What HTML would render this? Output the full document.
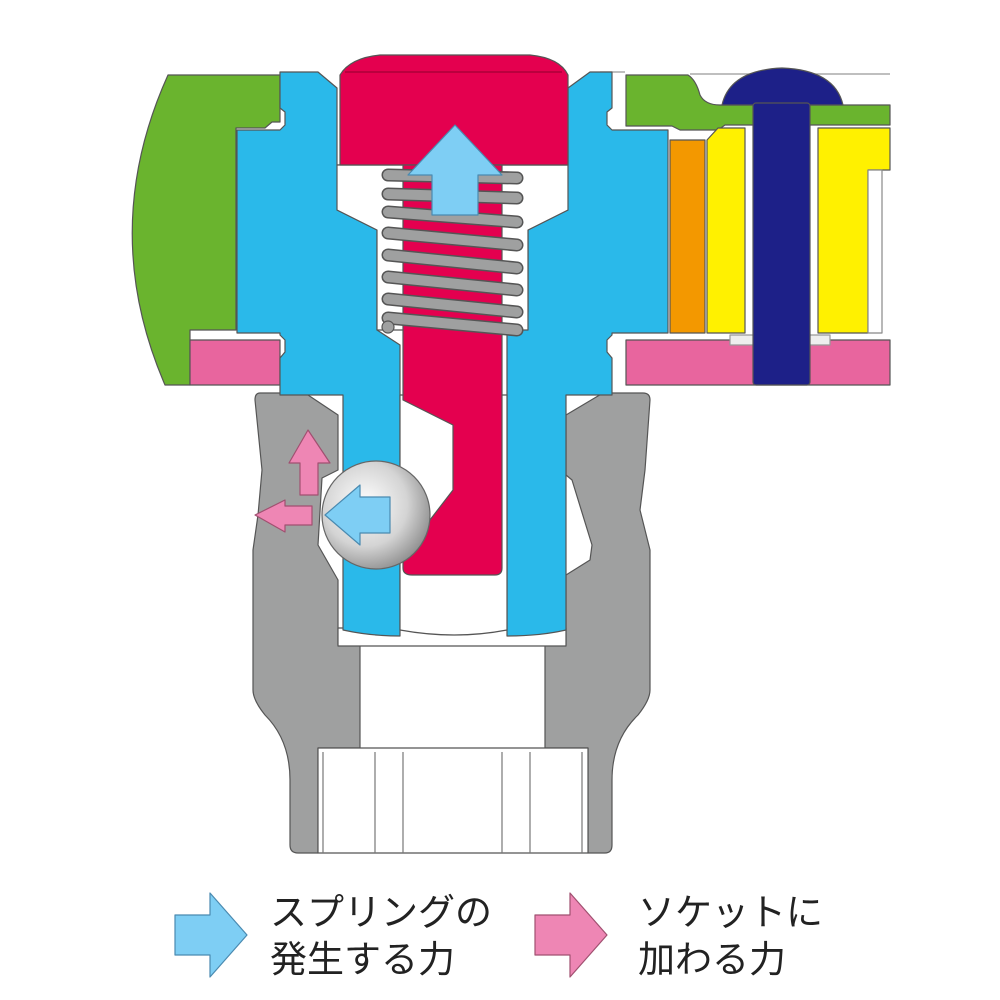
<!DOCTYPE html>
<html><head><meta charset="utf-8"><style>
html,body{margin:0;padding:0;background:#fff;width:1000px;height:1000px;overflow:hidden}
svg{display:block}
text{font-family:"Liberation Sans","Noto Sans CJK JP",sans-serif;fill:#222}
</style></head><body>
<svg width="1000" height="1000" viewBox="0 0 1000 1000" xmlns="http://www.w3.org/2000/svg">
<defs>
<radialGradient id="ball" cx="0.4" cy="0.4" r="0.65">
<stop offset="0" stop-color="#ffffff"/><stop offset="0.6" stop-color="#d4d4d4"/><stop offset="1" stop-color="#8e8e8e"/>
</radialGradient>
</defs>
<g stroke="#555" stroke-width="1.2" stroke-linejoin="round">
<path d="M690 74 H890 M600 72 H625" stroke="#999" fill="none"/>
<path d="M168 75 H280 V122 H272 L265 128 H236 V330 H190 V385 H165 Q98 230 168 75 Z" fill="#6ab42e"/>
<rect x="190" y="340" width="90" height="45" fill="#e8659e"/>
<path d="M626 75 H688 Q696 80 700 95 Q705 105 720 105 H890 V125 H725 L718 130 H680 L672 126 H626 Z" fill="#6ab42e"/>
<rect x="670" y="140" width="35" height="193" fill="#f39800"/>
<path d="M707 140 L718 128 H745 V333 H707 Z" fill="#fff100"/>
<path d="M818 128 H890 V170 H868 V333 H818 Z" fill="#fff100"/>
<path d="M868 170 H882 V333 H868 Z" fill="#fff" stroke="#888"/>
<path d="M626 340 H890 V385 H626 Z" fill="#e8659e"/>
<rect x="730" y="335" width="100" height="10" fill="#eee" stroke="#999"/>
<path d="M722 105 Q730 70 782 68 Q835 70 843 105 Z" fill="#1d2088"/>
<rect x="753" y="103" width="57" height="282" rx="3" fill="#1d2088"/>
<path d="M260 393 H305 L338 415 V470 L322 478 L318 545 L338 580 V645 H360 V748 H318 V853 H298 Q290 853 290 845 V780 Q290 740 265 715 Q253 700 253 690 V550 L258 515 L262 470 L255 400 Q255 393 260 393 Z" fill="#9fa0a0"/>
<path d="M643 393 H603 L566 415 V475 L572 480 L592 545 L590 560 L566 575 V645 H545 V748 H588 V853 H605 Q612 853 612 845 V780 Q612 740 638 715 Q650 700 650 690 V550 L640 510 L645 470 L650 400 Q650 393 643 393 Z" fill="#9fa0a0"/>
<rect x="318" y="748" width="270" height="105" fill="#fff"/>
<path d="M323 752 V853 M375 752 V853 M403 752 V853 M502 752 V853 M530 752 V853 M582 752 V853" fill="none" stroke="#777"/>
<rect x="338" y="628" width="228" height="18" fill="#fff"/>
<path d="M280 72 H318 L337 88 V165 H568 V88 L590 72 H612 V108 L607 112 V125 L612 130 H668 V333 H612 V335 L607 340 V352 L612 358 V395 H566 V630 Q540 636 507 636 V330 L528 312 V230 L568 210 H337 L377 230 V330 L400 345 V636 Q370 636 343 630 V395 H280 V358 L285 352 V340 L280 335 V333 H237 V130 H280 L285 125 V112 L280 108 Z" fill="#2ab9ea"/>
<path d="M337 165 H568 V210 L528 230 V330 H377 V230 L337 210 Z" fill="#fff"/>
<path d="M400 395 H507 V630 Q455 640 400 630 Z" fill="#fff"/>
<path d="M340 165 V75 Q350 58 380 55 H530 Q560 58 568 75 V165 Z" fill="#e4004f"/>
<path d="M345 72 H562" stroke="#a00035" fill="none"/>
<path d="M403 165 H502 V568 Q502 575 495 575 H412 Q403 575 403 568 V555 L453 490 V425 L403 400 Z" fill="#e4004f"/>
<g stroke="#555" stroke-width="13" stroke-linecap="round" fill="none">
<path d="M388 175 L517 178 M388 194 L517 198 M388 212 L517 222 M388 233 L517 245 M388 255 L517 268 M388 277 L517 290 M388 299 L517 312 M388 318 L517 330"/>
</g>
<g stroke="#9fa0a0" stroke-width="10" stroke-linecap="round" fill="none">
<path d="M388 175 L517 178 M388 194 L517 198 M388 212 L517 222 M388 233 L517 245 M388 255 L517 268 M388 277 L517 290 M388 299 L517 312 M388 318 L517 330"/>
</g>
<circle cx="388" cy="327" r="6" fill="#9fa0a0"/>
<path d="M455 125 L502 175 H478 V215 H432 V175 H408 Z" fill="#7ecef4" stroke="#4a8ab0"/>
<circle cx="376" cy="515" r="54" fill="url(#ball)" stroke="#666"/>
<path d="M325 515 L360 485 V497 H390 V533 H360 V545 Z" fill="#7ecef4" stroke="#4a8ab0"/>
<path d="M308 430 L330 463 H318 V495 H300 V463 H289 Z" fill="#ee86b4" stroke="#a05070"/>
<path d="M255 515 L285 500 V506 H312 V525 H285 V532 Z" fill="#ee86b4" stroke="#a05070"/>
<path d="M175 915 H210 V893 L247 935 L210 977 V955 H175 Z" fill="#7ecef4" stroke="#4a8ab0"/>
<path d="M535 915 H570 V893 L607 935 L570 977 V955 H535 Z" fill="#ee86b4" stroke="#a05070"/>
</g>
<text x="270" y="925" font-size="37">スプリングの</text>
<text x="270" y="972" font-size="37">発生する力</text>
<text x="638" y="925" font-size="37">ソケットに</text>
<text x="638" y="972" font-size="37">加わる力</text>
</svg>
</body></html>
